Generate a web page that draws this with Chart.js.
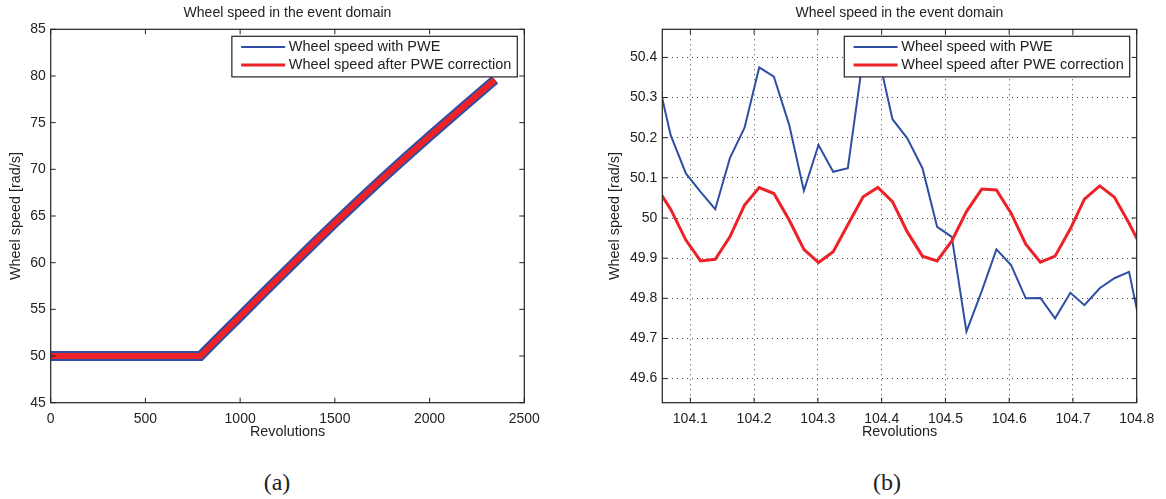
<!DOCTYPE html>
<html>
<head>
<meta charset="utf-8">
<script src="https://cdn.jsdelivr.net/npm/chart.js@4.4.0/dist/chart.umd.min.js"></script>
<style>
  html, body { margin: 0; padding: 0; background: #fff; }
  body { width: 1166px; height: 499px; position: relative; overflow: hidden; }
  .box { position: absolute; top: 0; height: 445px; width: 583px; }
  #boxA { left: 0; }
  #boxB { left: 583px; }
  .cap { position: absolute; top: 470px; line-height: 1; font-size: 24px;
         font-family: "Liberation Serif", "DejaVu Serif", serif; color: #222;
         transform: translateX(-50%); }
</style>
</head>
<body>
<div class="box" id="boxA"><canvas id="chartA"></canvas></div>
<div class="box" id="boxB"><canvas id="chartB"></canvas></div>
<div class="cap" style="left:277px">(a)</div>
<div class="cap" style="left:887px">(b)</div>
<script>
// (a) whole run
const revsA      = [0, 790, 900, 1000, 1125, 1250, 1375, 1500, 1625, 1750, 1875, 2000, 2170, 2345];
const withPweA   = [50, 50, 52.25, 54.25, 56.8, 59.3, 61.8, 64.25, 66.65, 69.0, 71.3, 73.55, 76.55, 79.6];
const correctedA = [50, 50, 52.25, 54.25, 56.8, 59.3, 61.8, 64.25, 66.65, 69.0, 71.3, 73.55, 76.55, 79.6];
const xTicksA = [0, 500, 1000, 1500, 2000, 2500];
const yTicksA = [45, 50, 55, 60, 65, 70, 75, 80, 85];

// (b) zoom around rev 104
const revsB = [104.047, 104.069, 104.093, 104.116, 104.139, 104.162, 104.185, 104.208,
  104.231, 104.255, 104.278, 104.301, 104.324, 104.347, 104.371, 104.394, 104.417,
  104.440, 104.464, 104.487, 104.510, 104.533, 104.557, 104.580, 104.603, 104.626,
  104.649, 104.672, 104.696, 104.718, 104.742, 104.765, 104.788, 104.811];
const withPweB = [50.36, 50.207, 50.111, 50.065, 50.022, 50.149, 50.225, 50.375,
  50.352, 50.232, 50.068, 50.182, 50.115, 50.124, 50.40, 50.41, 50.246,
  50.199, 50.124, 49.978, 49.953, 49.717, 49.818, 49.922, 49.883, 49.800,
  49.801, 49.750, 49.814, 49.783, 49.825, 49.850, 49.866, 49.69];
const correctedB = [50.077, 50.022, 49.945, 49.893, 49.897, 49.953, 50.032, 50.076,
  50.061, 49.995, 49.922, 49.889, 49.916, 49.983, 50.053, 50.076, 50.041,
  49.966, 49.905, 49.893, 49.943, 50.016, 50.072, 50.070, 50.012, 49.935,
  49.890, 49.905, 49.973, 50.047, 50.080, 50.052, 49.987, 49.916];
const xTicksB = [104.1, 104.2, 104.3, 104.4, 104.5, 104.6, 104.7, 104.8];
const yTicksB = [49.6, 49.7, 49.8, 49.9, 50, 50.1, 50.2, 50.3, 50.4];

const labels = ["Wheel speed with PWE", "Wheel speed after PWE correction"];
const BLUE = "#2f4fa5";
const RED = "#ec2228";
const INK = "#222";

Chart.defaults.font.family = '"Liberation Sans", Arial, sans-serif';
Chart.defaults.font.size = 14;
Chart.defaults.color = INK;

function pts(xs, ys) { return xs.map((x, i) => ({ x: x, y: ys[i] })); }

// matlab style box with inward ticks on all four sides
const axesBox = {
  id: "axesBox",
  afterDatasetsDraw(chart) {
    const { ctx, chartArea: a, scales } = chart;
    const L = 5;
    ctx.save();
    ctx.strokeStyle = INK;
    ctx.lineWidth = 1;
    ctx.beginPath();
    scales.x.ticks.forEach(t => {
      const px = scales.x.getPixelForValue(t.value);
      ctx.moveTo(px, a.bottom); ctx.lineTo(px, a.bottom - L);
      ctx.moveTo(px, a.top); ctx.lineTo(px, a.top + L);
    });
    scales.y.ticks.forEach(t => {
      const py = scales.y.getPixelForValue(t.value);
      ctx.moveTo(a.left, py); ctx.lineTo(a.left + L, py);
      ctx.moveTo(a.right, py); ctx.lineTo(a.right - L, py);
    });
    ctx.stroke();
    ctx.lineWidth = 1.2;
    ctx.strokeRect(a.left, a.top, a.right - a.left, a.bottom - a.top);
    ctx.restore();
  }
};

// boxed legend in upper right, drawn above the lines
const boxLegend = {
  id: "boxLegend",
  afterDatasetsDraw(chart, args, opts) {
    const { ctx, chartArea: a } = chart;
    const ds = chart.data.datasets;
    ctx.save();
    ctx.font = "14.5px " + Chart.defaults.font.family;
    const tw = Math.max.apply(null, ds.map(d => ctx.measureText(d.label).width));
    const w = 57 + tw + 6, h = 40.6;
    const x0 = a.right - 7 - w, y0 = a.top + 7;
    ctx.fillStyle = "#fff";
    ctx.fillRect(x0, y0, w, h);
    ctx.strokeStyle = INK;
    ctx.lineWidth = 1.2;
    ctx.strokeRect(x0, y0, w, h);
    ds.forEach((d, i) => {
      const y = y0 + 10.6 + i * 18;
      ctx.strokeStyle = d.borderColor;
      ctx.lineWidth = opts.widths[i];
      ctx.beginPath(); ctx.moveTo(x0 + 9.3, y); ctx.lineTo(x0 + 53.3, y); ctx.stroke();
      ctx.fillStyle = INK;
      ctx.textBaseline = "middle";
      ctx.fillText(d.label, x0 + 57, y + 0.5);
    });
    ctx.restore();
  }
};

function makeOptions(cfg) {
  return {
    responsive: true, maintainAspectRatio: false, animation: false,
    layout: { padding: cfg.pad },
    plugins: {
      legend: { display: false },
      tooltip: { enabled: false },
      title: {
        display: true, text: "Wheel speed in the event domain", fullSize: false,
        color: INK, font: { size: 14, weight: "normal" },
        padding: { top: 4.6, bottom: 7.9 }
      },
      boxLegend: { widths: [2, 3] }
    },
    scales: {
      x: {
        type: "linear", min: cfg.xMin, max: cfg.xMax,
        afterBuildTicks: s => { s.ticks = cfg.xTicks.map(v => ({ value: v })); },
        afterFit: s => { s.height = 42.3; },
        ticks: { padding: 8, maxRotation: 0, autoSkip: false, callback: v => String(v) },
        grid: { display: cfg.grid, drawTicks: false, color: "#444", lineWidth: 1 },
        border: { display: false, dash: [1, 4] },
        title: { display: true, text: "Revolutions", font: { size: 14.4 }, padding: { top: 0, bottom: 4.6 } }
      },
      y: {
        type: "linear", min: cfg.yMin, max: cfg.yMax,
        afterBuildTicks: s => { s.ticks = cfg.yTicks.map(v => ({ value: v })); },
        afterFit: s => { s.width = cfg.yWidth; },
        ticks: { padding: 5, autoSkip: false, callback: v => String(v) },
        grid: { display: cfg.grid, drawTicks: false, color: "#444", lineWidth: 1 },
        border: { display: false, dash: [1, 4] },
        title: { display: true, text: "Wheel speed [rad/s]", font: { size: 14.4 }, padding: { top: 7.6, bottom: 0 } }
      }
    }
  };
}

new Chart(document.getElementById("chartA"), {
  type: "line",
  data: {
    datasets: [
      { label: labels[0], data: pts(revsA, withPweA), borderColor: BLUE, borderWidth: 10,
        pointRadius: 0, tension: 0, clip: 0, order: 2, borderJoinStyle: "miter" },
      { label: labels[1], data: pts(revsA, correctedA), borderColor: RED, borderWidth: 6,
        pointRadius: 0, tension: 0, clip: 0, order: 1, borderJoinStyle: "miter" }
    ]
  },
  options: makeOptions({
    pad: { left: 0, right: 58.7, top: 0, bottom: 0 },
    xMin: 0, xMax: 2500, yMin: 45, yMax: 85,
    xTicks: xTicksA, yTicks: yTicksA, yWidth: 50.7, grid: false
  }),
  plugins: [axesBox, boxLegend]
});

new Chart(document.getElementById("chartB"), {
  type: "line",
  data: {
    datasets: [
      { label: labels[0], data: pts(revsB, withPweB), borderColor: BLUE, borderWidth: 2,
        pointRadius: 0, tension: 0, clip: 0, order: 2 },
      { label: labels[1], data: pts(revsB, correctedB), borderColor: RED, borderWidth: 3,
        pointRadius: 0, tension: 0, clip: 0, order: 1 }
    ]
  },
  options: makeOptions({
    pad: { left: 16, right: 29.3, top: 0, bottom: 0 },
    xMin: 104.056, xMax: 104.8, yMin: 49.54, yMax: 50.47,
    xTicks: xTicksB, yTicks: yTicksB, yWidth: 63.3, grid: true
  }),
  plugins: [axesBox, boxLegend]
});
</script>
</body>
</html>
